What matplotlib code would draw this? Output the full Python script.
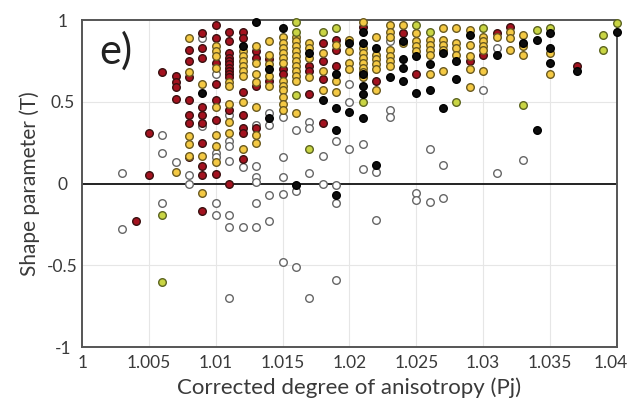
import matplotlib
matplotlib.use("Agg")
import matplotlib.pyplot as plt
import matplotlib.transforms as mtransforms

plt.rcParams['font.family'] = ['Lato', 'DejaVu Sans']
plt.rcParams['axes.unicode_minus'] = False

# ---- data: (Pj, T) pairs per group ----
grey_pts = [
    (1.003, 0.065), (1.003, -0.275),
    (1.006, 0.30), (1.006, 0.19), (1.006, -0.12),
    (1.007, 0.13),
    (1.008, 0.055), (1.008, 0.0),
    (1.009, 0.89), (1.009, 0.35),
    (1.010, 0.67), (1.010, 0.19), (1.010, 0.16), (1.010, -0.12), (1.010, -0.195),
    (1.011, 0.42), (1.011, 0.26), (1.011, 0.23), (1.011, 0.14), (1.011, -0.19), (1.011, -0.265), (1.011, -0.70),
    (1.012, 0.10), (1.012, -0.265),
    (1.013, 0.36), (1.013, 0.11), (1.013, 0.04), (1.013, 0.01), (1.013, -0.12), (1.013, -0.265),
    (1.014, 0.43), (1.014, 0.36), (1.014, -0.07), (1.014, -0.23),
    (1.015, 0.41), (1.015, 0.16), (1.015, 0.04), (1.015, -0.065), (1.015, -0.48),
    (1.016, 0.33), (1.016, -0.045), (1.016, -0.51),
    (1.017, 0.38), (1.017, 0.34), (1.017, 0.065), (1.017, -0.70),
    (1.018, 0.17), (1.018, -0.005),
    (1.019, 0.26), (1.019, -0.01), (1.019, -0.12), (1.019, -0.59),
    (1.020, 0.61), (1.020, 0.50), (1.020, 0.21),
    (1.021, 0.24), (1.021, 0.09),
    (1.022, 0.07), (1.022, -0.225),
    (1.023, 0.87), (1.023, 0.45), (1.023, 0.41),
    (1.025, -0.057), (1.025, -0.10),
    (1.026, 0.21), (1.026, -0.11),
    (1.027, 0.115), (1.027, -0.085),
    (1.030, 0.57),
    (1.031, 0.83), (1.031, 0.065),
    (1.033, 0.145),
]

darkred_pts = [
    (1.004, -0.23),
    (1.005, 0.31), (1.005, 0.05),
    (1.006, 0.68),
    (1.007, 0.66), (1.007, 0.62), (1.007, 0.59), (1.007, 0.52),
    (1.008, 0.82), (1.008, 0.75), (1.008, 0.65), (1.008, 0.51), (1.008, 0.42), (1.008, 0.37), (1.008, 0.16),
    (1.009, 0.92), (1.009, 0.83), (1.009, 0.77), (1.009, 0.47), (1.009, 0.42), (1.009, 0.37), (1.009, 0.25),
    (1.009, 0.11), (1.009, 0.055), (1.009, -0.17),
    (1.010, 0.97), (1.010, 0.89), (1.010, 0.74), (1.010, 0.61), (1.010, 0.51), (1.010, 0.39), (1.010, 0.06),
    (1.011, 0.93), (1.011, 0.87), (1.011, 0.80), (1.011, 0.77), (1.011, 0.75), (1.011, 0.73), (1.011, 0.71),
    (1.011, 0.69), (1.011, 0.67), (1.011, 0.65), (1.011, 0.45), (1.011, 0.0),
    (1.012, 0.93), (1.012, 0.89), (1.012, 0.56), (1.012, 0.42), (1.012, 0.34), (1.012, 0.31), (1.012, 0.15),
    (1.013, 0.81), (1.013, 0.77), (1.013, 0.60), (1.013, 0.34),
    (1.014, 0.76), (1.014, 0.63),
    (1.015, 0.70), (1.015, 0.67),
    (1.017, 0.72), (1.017, 0.69), (1.017, 0.55),
    (1.018, 0.86), (1.018, 0.75), (1.018, 0.64), (1.018, 0.37),
    (1.019, 0.88), (1.019, 0.82), (1.019, 0.72),
    (1.021, 0.96),
    (1.022, 0.63),
    (1.024, 0.92),
    (1.025, 0.67),
    (1.029, 0.75),
    (1.030, 0.79),
    (1.031, 0.92),
    (1.032, 0.96),
    (1.037, 0.72),
]

gold_pts = [
    (1.007, 0.07),
    (1.008, 0.89), (1.008, 0.68), (1.008, 0.29), (1.008, 0.24), (1.008, 0.17),
    (1.009, 0.61), (1.009, 0.17), (1.009, -0.055),
    (1.010, 0.84), (1.010, 0.81), (1.010, 0.78), (1.010, 0.71), (1.010, 0.47), (1.010, 0.30), (1.010, 0.23), (1.010, 0.13),
    (1.011, 0.62), (1.011, 0.60), (1.011, 0.49), (1.011, 0.38), (1.011, 0.31),
    (1.012, 0.81), (1.012, 0.78), (1.012, 0.75), (1.012, 0.72), (1.012, 0.69), (1.012, 0.66), (1.012, 0.50), (1.012, 0.21),
    (1.013, 0.84), (1.013, 0.74), (1.013, 0.67), (1.013, 0.62), (1.013, 0.47), (1.013, 0.30), (1.013, 0.25),
    (1.014, 0.87), (1.014, 0.79), (1.014, 0.73), (1.014, 0.66), (1.014, 0.60),
    (1.015, 0.90), (1.015, 0.86), (1.015, 0.83), (1.015, 0.80), (1.015, 0.77), (1.015, 0.74), (1.015, 0.63),
    (1.015, 0.60), (1.015, 0.57), (1.015, 0.53), (1.015, 0.49), (1.015, 0.45),
    (1.016, 0.90), (1.016, 0.87), (1.016, 0.84), (1.016, 0.81), (1.016, 0.78), (1.016, 0.75), (1.016, 0.72),
    (1.016, 0.69), (1.016, 0.66), (1.016, 0.63), (1.016, 0.43),
    (1.017, 0.86), (1.017, 0.83), (1.017, 0.77), (1.017, 0.65),
    (1.018, 0.80), (1.018, 0.69), (1.018, 0.57),
    (1.019, 0.85), (1.019, 0.63), (1.019, 0.56),
    (1.020, 0.88), (1.020, 0.81), (1.020, 0.74), (1.020, 0.70),
    (1.021, 0.99), (1.021, 0.83), (1.021, 0.80), (1.021, 0.77), (1.021, 0.74), (1.021, 0.71), (1.021, 0.68), (1.021, 0.65),
    (1.022, 0.90), (1.022, 0.79), (1.022, 0.76), (1.022, 0.73), (1.022, 0.70), (1.022, 0.57),
    (1.023, 0.97), (1.023, 0.93), (1.023, 0.90), (1.023, 0.82), (1.023, 0.78), (1.023, 0.75), (1.023, 0.72),
    (1.024, 0.97), (1.024, 0.86),
    (1.025, 0.92), (1.025, 0.87), (1.025, 0.84), (1.025, 0.81),
    (1.026, 0.88), (1.026, 0.85), (1.026, 0.82), (1.026, 0.79), (1.026, 0.67),
    (1.027, 0.95), (1.027, 0.88), (1.027, 0.85), (1.027, 0.82), (1.027, 0.69),
    (1.028, 0.95), (1.028, 0.86), (1.028, 0.83), (1.028, 0.79),
    (1.029, 0.94), (1.029, 0.85), (1.029, 0.78), (1.029, 0.70), (1.029, 0.59),
    (1.030, 0.90), (1.030, 0.87), (1.030, 0.84), (1.030, 0.82), (1.030, 0.69),
    (1.031, 0.90),
    (1.032, 0.93), (1.032, 0.89), (1.032, 0.82),
    (1.033, 0.91), (1.033, 0.84), (1.033, 0.79),
    (1.035, 0.80), (1.035, 0.67),
]

yellowgreen_pts = [
    (1.006, -0.19), (1.006, -0.60),
    (1.016, 0.99), (1.016, 0.93), (1.016, 0.54),
    (1.017, 0.21),
    (1.018, 0.93),
    (1.019, 0.95),
    (1.021, 0.50),
    (1.025, 0.97),
    (1.026, 0.93),
    (1.028, 0.50),
    (1.030, 0.95),
    (1.033, 0.48),
    (1.034, 0.94),
    (1.035, 0.95),
    (1.039, 0.91), (1.039, 0.82),
    (1.040, 0.98),
]

black_pts = [
    (1.009, 0.555),
    (1.012, 0.84),
    (1.013, 0.99),
    (1.014, 0.70), (1.014, 0.40),
    (1.015, 0.95),
    (1.016, -0.01),
    (1.017, 0.80),
    (1.018, 0.51),
    (1.019, 0.67), (1.019, 0.46), (1.019, 0.33), (1.019, -0.07),
    (1.020, 0.86), (1.020, 0.44),
    (1.021, 0.93), (1.021, 0.86), (1.021, 0.67), (1.021, 0.60), (1.021, 0.55), (1.021, 0.40),
    (1.022, 0.83), (1.022, 0.115),
    (1.023, 0.65),
    (1.024, 0.87), (1.024, 0.76), (1.024, 0.71), (1.024, 0.63),
    (1.025, 0.78), (1.025, 0.555),
    (1.026, 0.73), (1.026, 0.57),
    (1.027, 0.80), (1.027, 0.46),
    (1.028, 0.75), (1.028, 0.64),
    (1.029, 0.91),
    (1.031, 0.79),
    (1.033, 0.86),
    (1.034, 0.88), (1.034, 0.33),
    (1.035, 0.92), (1.035, 0.83), (1.035, 0.74),
    (1.037, 0.69),
    (1.040, 0.93),
]

x_ticks = [1.0, 1.005, 1.01, 1.015, 1.02, 1.025, 1.03, 1.035, 1.04]
x_tick_labels = ['1', '1.005', '1.01', '1.015', '1.02', '1.025', '1.03', '1.035', '1.04']
y_ticks = [-1, -0.5, 0, 0.5, 1]
y_tick_labels = ['-1', '-0.5', '0', '0.5', '1']

fig = plt.figure(figsize=(6.32, 4.04), dpi=100)
ax = fig.add_axes([0.130, 0.141, 0.846, 0.809])
ax.set_xlim(1.0, 1.04)
ax.set_ylim(-1, 1)

# grid
for xv in x_ticks[1:-1]:
    ax.axvline(xv, color='#e6e6e6', lw=0.8, zorder=0)
for yv in [-0.5, 0.5]:
    ax.axhline(yv, color='#e6e6e6', lw=0.8, zorder=0)
ax.axhline(0, color='#222222', lw=1.4, zorder=1)

groups = [
    (grey_pts, 'white', '#666666'),
    (darkred_pts, '#a3121f', '#3a1010'),
    (gold_pts, '#f4c944', '#6b5a20'),
    (yellowgreen_pts, '#c9d544', '#5c6420'),
    (black_pts, '#0d0d0d', '#000000'),
]
for pts, fc, ec in groups:
    xs = [p[0] for p in pts]
    ys = [p[1] for p in pts]
    ax.scatter(xs, ys, s=30, facecolor=fc, edgecolor=ec, linewidths=1.0, zorder=3, clip_on=False)

for sp in ax.spines.values():
    sp.set_color('#555555')
    sp.set_linewidth(1.4)

ax.set_xticks(x_ticks)
ax.set_xticklabels(x_tick_labels)
ax.set_yticks(y_ticks)
ax.set_yticklabels(y_tick_labels)
ax.tick_params(axis='both', length=0, labelsize=12.5, labelcolor='#3a3a3a')
ax.tick_params(axis='x', pad=6)
ax.tick_params(axis='y', pad=14)
for lab in ax.get_yticklabels():
    lab.set_ha('center')
# keep the last x tick label inside the figure (shift a few pixels left)
last = ax.get_xticklabels()[-1]
last.set_transform(last.get_transform() + mtransforms.ScaledTranslation(-6 / 100, 0, fig.dpi_scale_trans))

ax.set_xlabel('Corrected degree of anisotropy (Pj)', fontsize=16, color='#3a3a3a', labelpad=4)
ax.set_ylabel('Shape parameter (T)', fontsize=15, color='#3a3a3a', labelpad=5)

ax.text(0.032, 0.905, 'e)', transform=ax.transAxes, fontsize=30, color='#222222',
        ha='left', va='center')

fig.savefig('out.png', dpi=100)
